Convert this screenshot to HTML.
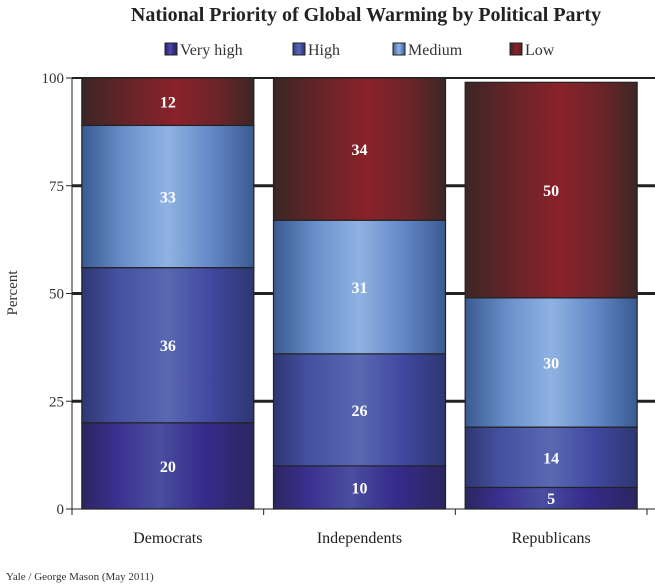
<!DOCTYPE html>
<html><head><meta charset="utf-8"><style>
body{margin:0;background:#fff;}
svg text{font-family:"Liberation Serif",serif;}
</style></head><body>
<svg id="chart" width="655" height="583" viewBox="0 0 655 583">
<defs>
<linearGradient id="g0" x1="0" x2="1" y1="0" y2="0"><stop offset="0" stop-color="#2c2560"/><stop offset="0.2" stop-color="#3a3090"/><stop offset="0.45" stop-color="#4a4ea0"/><stop offset="0.7" stop-color="#362c8c"/><stop offset="1" stop-color="#2c2560"/></linearGradient>
<linearGradient id="g1" x1="0" x2="1" y1="0" y2="0"><stop offset="0" stop-color="#2e3672"/><stop offset="0.2" stop-color="#4450a0"/><stop offset="0.5" stop-color="#5a68b2"/><stop offset="0.75" stop-color="#4048a0"/><stop offset="1" stop-color="#2e3672"/></linearGradient>
<linearGradient id="g2" x1="0" x2="1" y1="0" y2="0"><stop offset="0" stop-color="#3a5a90"/><stop offset="0.25" stop-color="#6a90cc"/><stop offset="0.5" stop-color="#90b2e2"/><stop offset="0.75" stop-color="#6488c8"/><stop offset="1" stop-color="#3a5a90"/></linearGradient>
<linearGradient id="g3" x1="0" x2="1" y1="0" y2="0"><stop offset="0" stop-color="#3c2626"/><stop offset="0.3" stop-color="#6a2428"/><stop offset="0.55" stop-color="#8a2229"/><stop offset="0.8" stop-color="#6a2428"/><stop offset="1" stop-color="#3c2626"/></linearGradient>
</defs>
<text x="366" y="21" text-anchor="middle" font-size="20" font-weight="bold" fill="#222">National Priority of  Global Warming by Political Party</text>
<g id="legend"></g>
<g id="grid"></g>
<g id="bars"></g>
<g id="axes"></g>
<text transform="translate(17,293) rotate(-90)" text-anchor="middle" font-size="15" fill="#333">Percent</text>
<text x="6" y="580" font-size="11" fill="#333">Yale / George Mason (May 2011)</text>
</svg>
<script>
const categories = ["Democrats","Independents","Republicans"];
const seriesNames = ["Very high","High","Medium","Low"];
const veryHigh = [20,10,5];
const high = [36,26,14];
const medium = [33,31,30];
const low = [12,34,50];
const yTicks = [0,25,50,75,100];

const NS="http://www.w3.org/2000/svg";
const y0=509, yTop=78, xL=72, xR=647;
const y=v=>y0-(Math.min(v,100)/100)*(y0-yTop);
const bandW=(xR-xL)/categories.length;
const barW=172;
function mk(tag,attrs,parent){const e=document.createElementNS(NS,tag);for(const k in attrs)e.setAttribute(k,attrs[k]);parent.appendChild(e);return e;}
const grid=document.getElementById('grid'),bars=document.getElementById('bars'),axes=document.getElementById('axes'),legend=document.getElementById('legend');
yTicks.forEach(t=>{
  if(t>0){const l=mk('line',{x1:xL,x2:xR+8,y1:y(t),y2:y(t),stroke:'#222','stroke-width':t==100?2:3},grid);
  
  }
  mk('line',{x1:xL-6,x2:xL,y1:y(t),y2:y(t),stroke:'#222'},axes);
  const tx=mk('text',{x:xL-8,y:y(t)+5,'text-anchor':'end','font-size':15,fill:'#333'},axes);
  tx.textContent=t;
  
  
});
mk('line',{x1:xL,x2:xL,y1:yTop,y2:y0+6,stroke:'#222'},axes);
mk('line',{x1:xL,x2:xR+8,y1:y0,y2:y0,stroke:'#222'},axes);
for(let i=0;i<=categories.length;i++)mk('line',{x1:xL+i*bandW,x2:xL+i*bandW,y1:y0,y2:y0+6,stroke:'#222'},axes);
const series=[veryHigh,high,medium,low];
categories.forEach((c,i)=>{
  const bx=xL+i*bandW+(bandW-barW)/2;
  let cum=0;
  series.forEach((s,j)=>{
    const v=s[i];
    const r=mk('rect',{x:bx,y:y(cum+v),width:barW,height:y(cum)-y(cum+v),fill:'url(#g'+j+')',stroke:'#222','stroke-width':1.2},bars);
    
    
    const lb=mk('text',{x:bx+barW/2,y:(y(cum)+y(cum+v))/2+6,'text-anchor':'middle','font-size':16,'font-weight':'bold',fill:'#fff'},bars);
    lb.textContent=v;
    
    
    cum+=v;
  });
  const ct=mk('text',{x:xL+i*bandW+bandW/2,y:543,'text-anchor':'middle','font-size':16,fill:'#222'},axes);
  ct.textContent=c;
  
  
});
const legX=[165,293,393,510];
seriesNames.forEach((n,j)=>{
  const g=mk('g',{},legend);
  
  
  mk('rect',{x:legX[j],y:43,width:12,height:12,fill:'url(#g'+j+')',stroke:'#222'},g);
  const t=mk('text',{x:legX[j]+15,y:55,'font-size':16,fill:'#333'},g);
  t.textContent=n;
});
</script>
</body></html>
